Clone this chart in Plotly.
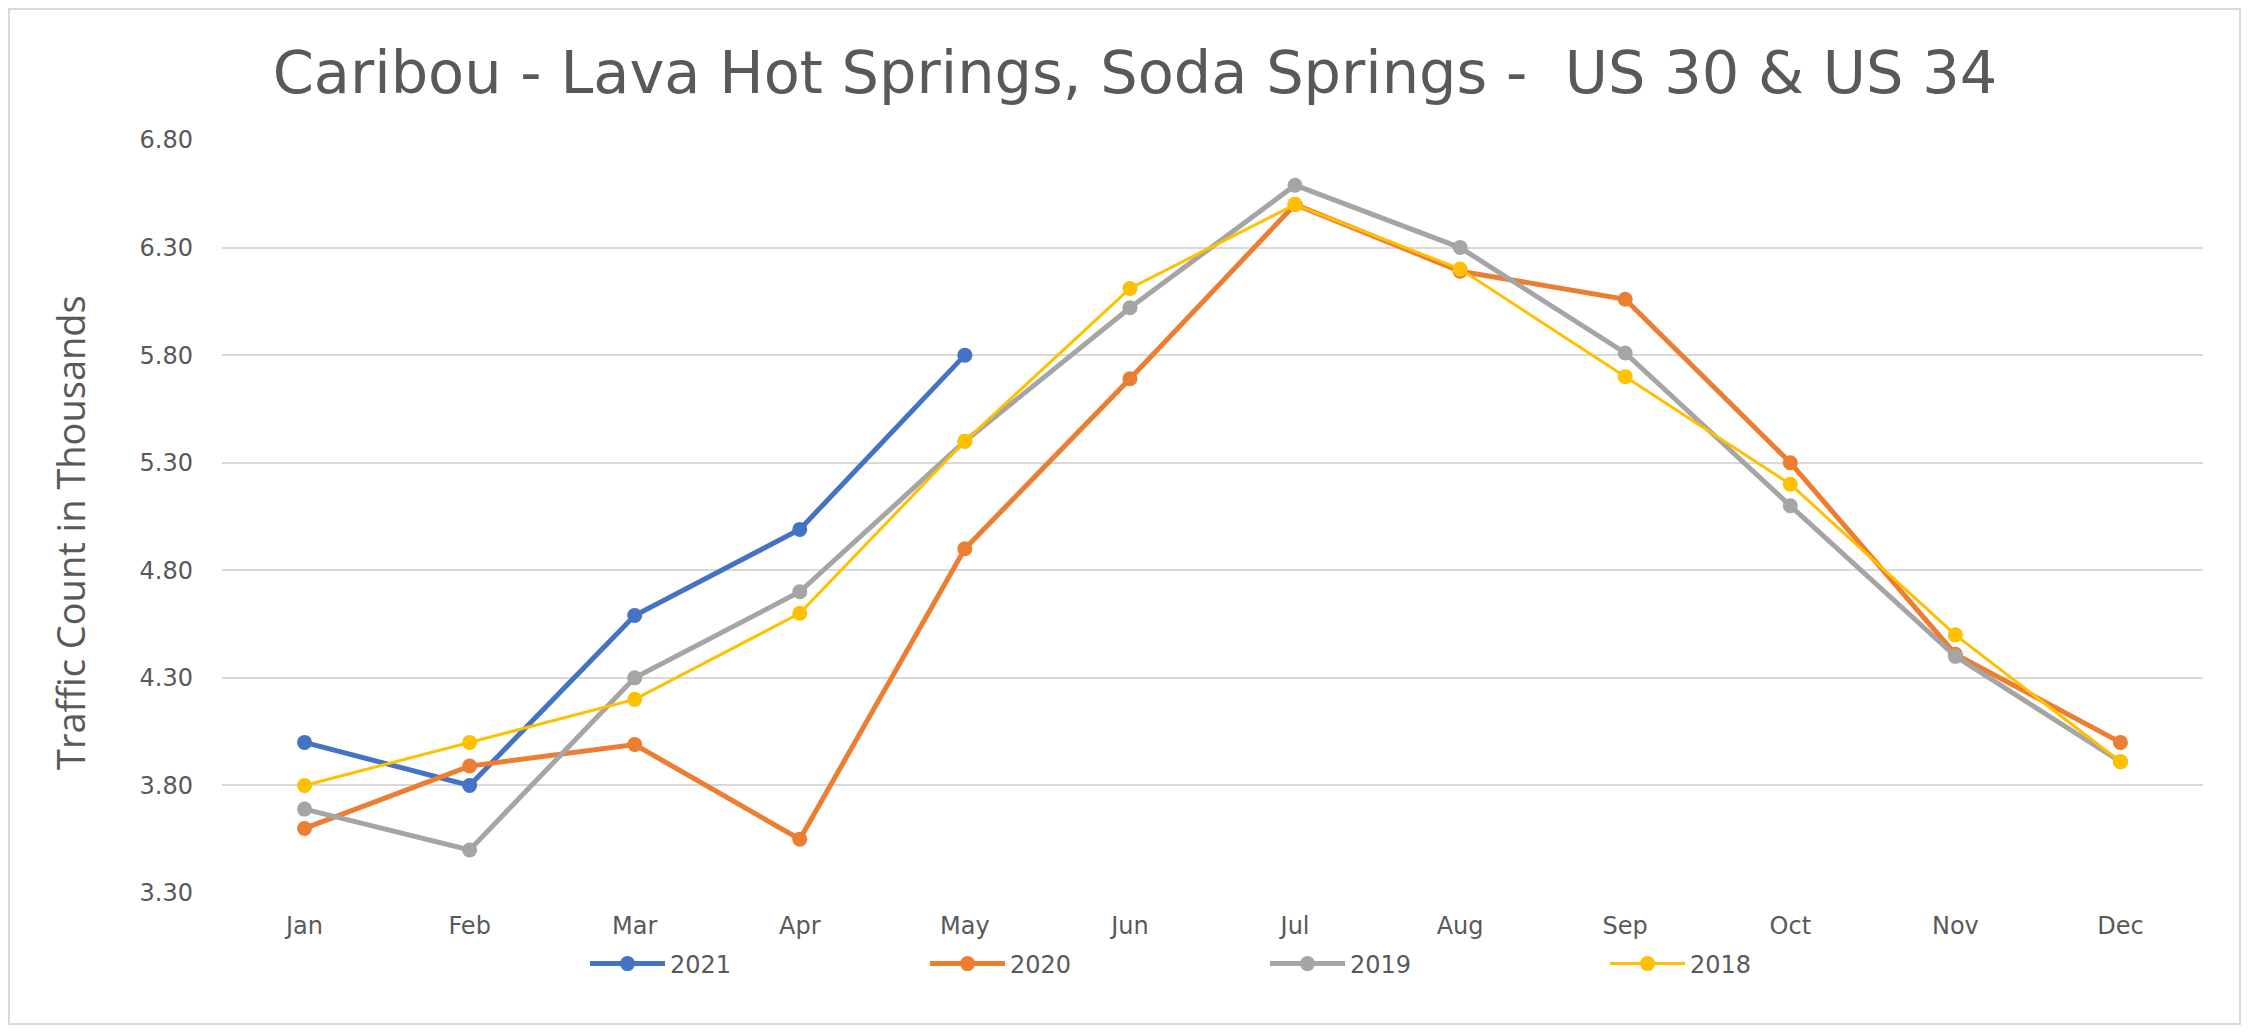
import plotly.graph_objects as go

months = ["Jan", "Feb", "Mar", "Apr", "May", "Jun", "Jul", "Aug", "Sep", "Oct", "Nov", "Dec"]
y2021 = [4.00, 3.80, 4.59, 4.99, 5.80]
y2020 = [3.60, 3.89, 3.99, 3.55, 4.90, 5.69, 6.50, 6.19, 6.06, 5.30, 4.41, 4.00]
y2019 = [3.69, 3.50, 4.30, 4.70, 5.40, 6.02, 6.59, 6.30, 5.81, 5.10, 4.40, 3.91]
y2018 = [3.80, 4.00, 4.20, 4.60, 5.40, 6.11, 6.50, 6.20, 5.70, 5.20, 4.50, 3.91]
yticks = [3.30, 3.80, 4.30, 4.80, 5.30, 5.80, 6.30, 6.80]

series = [
    ("2021", y2021, "#4472C4", 5),
    ("2020", y2020, "#ED7D31", 5),
    ("2019", y2019, "#A5A5A5", 5),
    ("2018", y2018, "#FFC000", 3),
]

FONT = "DejaVu Sans"
GREY = "#595959"

fig = go.Figure()
for name, vals, color, lw in series:
    fig.add_trace(go.Scatter(
        x=months[:len(vals)], y=vals, name=name, mode="lines+markers",
        line=dict(color=color, width=lw),
        marker=dict(color=color, size=15, symbol="circle"),
    ))

# page body has an 8px margin; figure sized so the page fits the window
W, H = 2233, 1017
L, R, T, B = 214, 38, 132, 132
PW, PH = W - L - R, H - T - B

def px(xf):
    return (xf - L) / PW

def py(yf):
    return (H - B - yf) / PH

fig.update_layout(
    width=W, height=H,
    margin=dict(l=L, r=R, t=T, b=B),
    paper_bgcolor="white", plot_bgcolor="white",
    font=dict(family=FONT, color=GREY),
    title=dict(
        text="Caribou - Lava Hot Springs, Soda Springs -  US 30 & US 34",
        x=1127 / W, xref="container", xanchor="center",
        y=1 - 64 / H, yref="container", yanchor="middle",
        font=dict(family=FONT, size=59, color=GREY),
    ),
    xaxis=dict(
        type="category", categoryorder="array", categoryarray=months,
        range=[-0.5, 11.5], showgrid=False, zeroline=False, showline=False,
        ticks="", tickfont=dict(size=24, color=GREY), ticklabelstandoff=16,
    ),
    yaxis=dict(
        range=[3.3, 6.8], tickvals=yticks, tickformat=".2f",
        showgrid=True, gridcolor="#D9D9D9", gridwidth=1.5,
        zeroline=False, showline=False, ticks="",
        tickfont=dict(size=24, color=GREY), ticklabelstandoff=28,
    ),
    legend=dict(
        orientation="h", x=px(577), xanchor="left",
        y=py(956), yanchor="middle",
        font=dict(size=24, color=GREY), itemwidth=75,
        entrywidth=250, entrywidthmode="pixels",
        bgcolor="rgba(0,0,0,0)",
    ),
    showlegend=True,
    annotations=[dict(
        text="Traffic Count in Thousands", textangle=-90,
        xref="paper", yref="paper",
        x=px(62), y=py(525),
        xanchor="center", yanchor="middle", showarrow=False,
        font=dict(family="Open Sans", size=38, color=GREY),
    )],
    shapes=[dict(
        type="rect", xref="paper", yref="paper",
        x0=px(1), x1=px(W - 1), y0=py(H - 1), y1=py(1),
        line=dict(color="#D9D9D9", width=2), layer="below",
    )],
)

fig.write_html("out.html")
